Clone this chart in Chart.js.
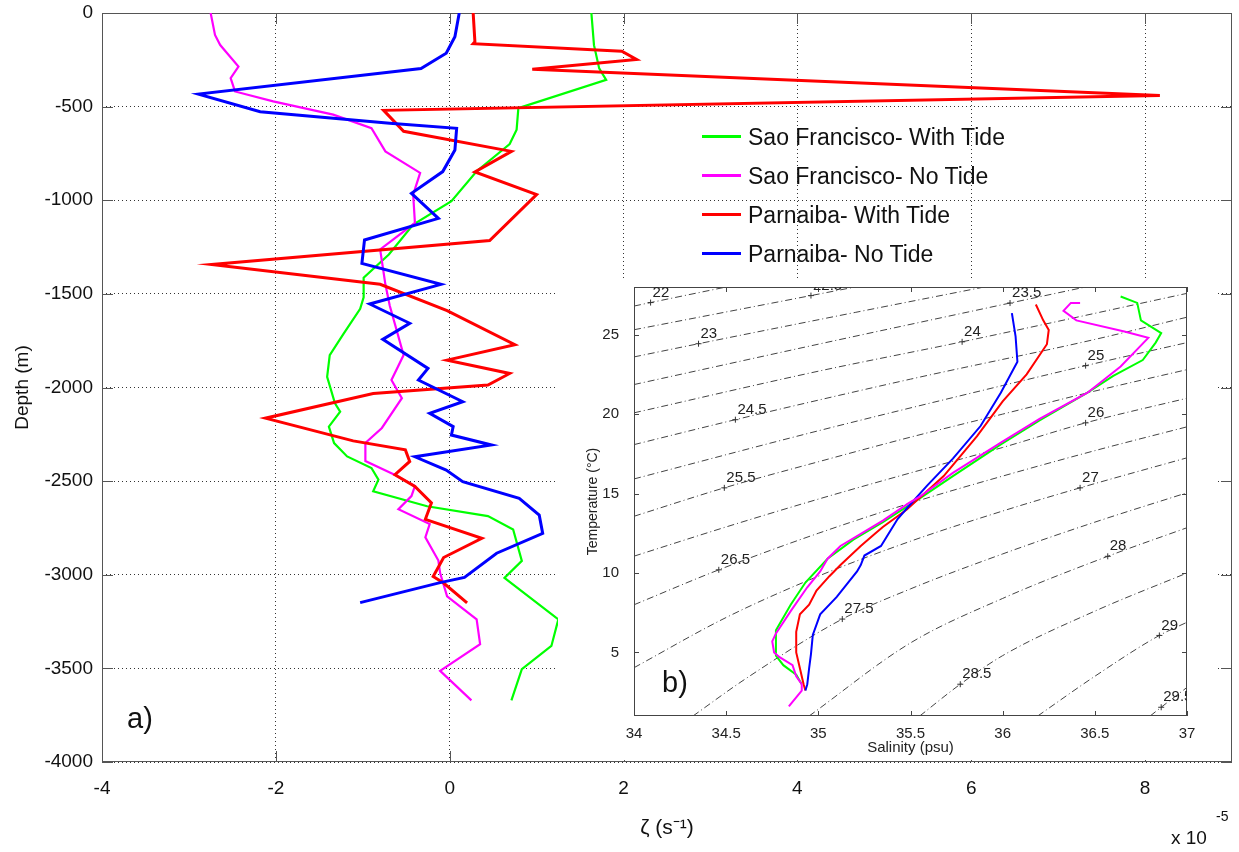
<!DOCTYPE html>
<html>
<head>
<meta charset="utf-8">
<script src="https://cdn.jsdelivr.net/npm/chart.js@4.4.0/dist/chart.umd.min.js"></script>
<style>
  html, body { margin: 0; padding: 0; background: #fff; }
  #wrap { position: relative; width: 1239px; height: 852px; font-family: "Liberation Sans", Arial, sans-serif; color: #111; }
  #main { position: absolute; left: 0; top: 0; }
  #insetBox { position: absolute; left: 558px; top: 278px; width: 657px; height: 482px; background: #fff; }
  #inset { position: absolute; left: 0; top: 0; }
  .legend-row { position: absolute; left: 702px; height: 30px; font-size: 23px; line-height: 30px; white-space: nowrap; }
  .legend-row i { display: inline-block; width: 39px; height: 3px; vertical-align: middle; margin-right: 7px; position: relative; top: -2px; }
  .note { position: absolute; white-space: nowrap; }
</style>
</head>
<body>
<div id="wrap">
  <canvas id="main" width="1239" height="852"></canvas>
  <div id="legend"></div>
  <div class="note" style="left:127px; top:702px; font-size:29px;">a)</div>
  <div class="note" style="left:1171px; top:827px; font-size:19px;">x 10</div>
  <div class="note" style="left:1216px; top:808px; font-size:14px;">-5</div>
  <div id="insetBox">
    <canvas id="inset" width="657" height="482"></canvas>
    <div class="note" style="left:104px; top:388px; font-size:29px;">b)</div>
  </div>
</div>
<script>
// ---- panel a: vorticity profiles (zeta in 1e-5 s^-1, depth in m) ----
const zetaTicks = [-4, -2, 0, 2, 4, 6, 8];
const depthTicks = [-4000, -3500, -3000, -2500, -2000, -1500, -1000, -500, 0];

const seriesNames = ['Sao Francisco- With Tide', 'Sao Francisco- No Tide', 'Parnaiba- With Tide', 'Parnaiba- No Tide'];
const seriesColors = ['#00ff00', '#ff00ff', '#ff0000', '#0000ff'];

const sfWithTide = [[1.63,0],[1.66,-172],[1.72,-296],[1.8,-357],[0.79,-508],[0.77,-623],[0.69,-700],[0.31,-845],
  [0.02,-1005],[-0.42,-1130],[-0.7,-1290],[-0.99,-1414],[-0.99,-1518],[-1.03,-1580],[-1.22,-1712],[-1.38,-1827],
  [-1.41,-1943],[-1.32,-2085],[-1.26,-2129],[-1.39,-2209],[-1.33,-2297],[-1.18,-2368],[-0.9,-2430],[-0.82,-2492],
  [-0.88,-2554],[-0.26,-2634],[0.44,-2687],[0.73,-2758],[0.83,-2926],[0.63,-3017],[1.25,-3238],[1.17,-3380],
  [0.83,-3504],[0.71,-3671]];
const sfNoTide = [[-2.75,0],[-2.7,-117],[-2.64,-171],[-2.43,-286],[-2.52,-348],[-2.47,-419],[-2.03,-472],[-1.34,-543],
  [-0.9,-615],[-0.74,-739],[-0.34,-854],[-0.42,-970],[-0.4,-1121],[-0.8,-1263],[-0.74,-1449],[-0.69,-1562],
  [-0.53,-1827],[-0.67,-1960],[-0.55,-2057],[-0.78,-2216],[-0.97,-2296],[-0.97,-2393],[-0.64,-2464],[-0.4,-2526],
  [-0.44,-2580],[-0.59,-2650],[-0.23,-2729],[-0.28,-2800],[-0.13,-2924],[-0.11,-2991],[-0.03,-3115],[0.31,-3238],
  [0.35,-3371],[-0.11,-3513],[0.25,-3671]];
const parWithTide = [[0.27,0],[0.29,-153],[0.27,-164],[1.98,-204],[2.15,-248],[0.95,-300],[8.17,-440],[-0.76,-520],
  [-0.53,-632],[0.71,-739],[0.29,-849],[1.0,-970],[0.46,-1215],[-2.74,-1343],[-0.8,-1449],[-0.03,-1589],[0.75,-1771],
  [-0.03,-1854],[0.69,-1925],[0.44,-1987],[-0.88,-2032],[-2.12,-2164],[-1.11,-2285],[-0.51,-2333],[-0.46,-2395],
  [-0.63,-2466],[-0.4,-2528],[-0.21,-2616],[-0.28,-2704],[0.37,-2805],[-0.07,-2908],[-0.19,-3009],[-0.07,-3044],
  [0.2,-3150]];
const parNoTide = [[0.11,0],[0.06,-127],[-0.04,-215],[-0.33,-296],[-2.89,-433],[-2.18,-527],[-0.69,-589],[0.08,-616],
  [0.06,-732],[-0.08,-847],[-0.44,-963],[-0.13,-1097],[-0.98,-1212],[-1.01,-1337],[-0.1,-1449],[-0.92,-1554],
  [-0.46,-1657],[-0.77,-1743],[-0.25,-1898],[-0.36,-1960],[0.15,-2076],[-0.23,-2138],[0.04,-2209],[0.02,-2254],
  [0.48,-2307],[-0.4,-2370],[-0.04,-2441],[0.15,-2503],[0.8,-2592],[1.03,-2681],[1.07,-2779],[0.54,-2885],
  [0.17,-3014],[-0.11,-3042],[-1.03,-3149]];

// ---- panel b: T-S diagram (salinity psu, temperature C) ----
const salTicks = [34, 34.5, 35, 35.5, 36, 36.5, 37];
const tempTicks = [5, 10, 15, 20, 25];

const tsSfWithTide = [[36.64,27.4],[36.73,27.0],[36.75,25.9],[36.86,25.1],[36.83,24.5],[36.76,23.4],[36.6,22.4],
  [36.46,21.35],[36.2,19.6],[35.99,18.1],[35.73,16.1],[35.55,14.7],[35.35,13.2],[35.19,12.1],[35.05,10.9],
  [34.93,9.4],[34.85,8.0],[34.77,6.4],[34.77,4.8],[34.81,4.2],[34.88,3.6],[34.91,3.0]];
const tsSfNoTide = [[36.42,27.0],[36.37,27.0],[36.33,26.5],[36.4,25.9],[36.66,25.2],[36.79,24.8],[36.64,23.0],
  [36.46,21.35],[36.2,19.7],[35.99,18.2],[35.73,16.3],[35.55,14.8],[35.49,14.4],[35.35,13.3],[35.12,11.7],
  [35.05,10.9],[35.01,10.1],[34.94,9.1],[34.85,7.6],[34.77,6.2],[34.75,5.7],[34.76,5.0],[34.79,4.7],[34.86,4.2],
  [34.88,3.5],[34.91,3.0],[34.91,2.6],[34.84,1.6]];
const tsParWithTide = [[36.18,26.9],[36.22,25.9],[36.25,25.3],[36.24,24.4],[36.13,22.5],[36.0,20.8],[35.86,18.6],
  [35.68,16.1],[35.48,14.0],[35.35,12.9],[35.31,12.5],[35.23,11.7],[35.12,10.5],[35.06,9.8],[34.99,8.9],
  [34.95,8.0],[34.9,7.4],[34.88,6.3],[34.88,5.0],[34.9,4.0],[34.92,3.0],[34.93,2.6]];
const tsParNoTide = [[36.05,26.36],[36.07,24.9],[36.08,23.3],[35.99,21.35],[35.88,19.25],[35.73,17.2],[35.59,15.5],
  [35.49,14.2],[35.43,13.4],[35.34,11.7],[35.25,11.1],[35.23,10.5],[35.21,10.1],[35.1,8.5],[35.01,7.4],
  [34.97,6.1],[34.96,4.9],[34.95,4.0],[34.94,3.0],[34.93,2.6]];

// isopycnals (sigma-theta)
const iso220 = [[34,26.8],[34.09,27.02],[34.5,28]];
const iso225 = [[34,25.31],[34.96,27.46],[35.2,28]];
const iso230 = [[34,23.6],[34.35,24.43],[35.2,26.4],[35.9,28]];
const iso235 = [[34,21.86],[35,24.4],[36.04,26.99],[36.45,28]];
const iso240 = [[34,20.08],[35,22.7],[35.78,24.55],[37,27.6]];
const iso245 = [[34,18.08],[34.55,19.65],[35.5,22.2],[36.5,24.7],[37,26.1]];
const iso250 = [[34,15.92],[35,18.95],[36,21.8],[36.45,23.05],[37,24.5]];
const iso255 = [[34,13.57],[34.49,15.36],[35,17.0],[35.5,18.55],[36,20.0],[36.5,21.45],[37,22.8]];
const iso260 = [[34,11.06],[34.5,12.9],[35,14.65],[35.5,16.3],[36,17.9],[36.45,19.45],[37,21.0]];
const iso265 = [[34,8.0],[34.46,10.2],[35,12.5],[35.5,14.4],[36,16.1],[36.5,17.7],[37,19.2]];
const iso270 = [[34,4.04],[34.5,7.2],[35,9.8],[35.5,12.0],[36,13.9],[36.42,15.36],[37,17.25]];
const iso275 = [[34.32,1.0],[34.6,3.3],[35.13,7.1],[35.5,9.0],[36,11.2],[36.5,13.2],[37,15.05]];
const iso280 = [[34.95,1.0],[35.5,5.6],[36,8.4],[36.57,11.05],[37,12.85]];
const iso285 = [[35.55,1.0],[35.77,3.0],[36,4.8],[36.5,7.6],[37,10.0]];
const iso290 = [[36.19,1.0],[36.5,3.5],[36.85,6.07],[37,6.9]];
const iso295 = [[36.8,1.0],[36.86,1.55],[37,2.8]];
const isopycnals = [iso220, iso225, iso230, iso235, iso240, iso245, iso250, iso255,
  iso260, iso265, iso270, iso275, iso280, iso285, iso290, iso295];

const sigmaLabels = ['22', '22.5', '23', '23.5', '24', '24.5', '25', '25.5', '26', '26.5', '27', '27.5', '28', '28.5', '29', '29.5'];
const sigmaLabelS = [34.09, 34.96, 34.35, 36.04, 35.78, 34.55, 36.45, 34.49, 36.45, 34.46, 36.42, 35.13, 36.57, 35.77, 36.85, 36.86];
const sigmaLabelT = [27.02, 27.46, 24.43, 26.99, 24.55, 19.65, 23.05, 15.36, 19.45, 10.2, 15.36, 7.1, 11.05, 3.0, 6.07, 1.55];

const toXY = arr => arr.map(p => ({ x: p[0], y: p[1] }));
const fixTicks = list => scale => { scale.ticks = list.map(v => ({ value: v })); };
// fixed axis sizes, no extra room for overhanging tick labels
const fixWidth = w => s => { s.width = w; s.paddingTop = 0; s.paddingBottom = 0; };
const fixHeight = h => s => { s.height = h; s.paddingLeft = 0; s.paddingRight = 0; };

// box + inward tick marks, matlab style
const framePlugin = {
  id: 'frame',
  beforeDatasetsDraw(chart, args, opts) {
    const { ctx, chartArea: a, scales: { x, y } } = chart;
    ctx.save();
    ctx.strokeStyle = opts.color;
    ctx.lineWidth = 1;
    ctx.strokeRect(a.left + 0.5, a.top + 0.5, a.right - a.left - 1, a.bottom - a.top - 1);
    ctx.beginPath();
    x.ticks.forEach(t => {
      const px = Math.round(x.getPixelForValue(t.value)) + 0.5;
      ctx.moveTo(px, a.bottom); ctx.lineTo(px, a.bottom - opts.tick);
      ctx.moveTo(px, a.top); ctx.lineTo(px, a.top + opts.tick);
    });
    y.ticks.forEach(t => {
      const py = Math.round(y.getPixelForValue(t.value)) + 0.5;
      ctx.moveTo(a.left, py); ctx.lineTo(a.left + opts.tick, py);
      ctx.moveTo(a.right, py); ctx.lineTo(a.right - opts.tick, py);
    });
    ctx.stroke();
    ctx.restore();
  }
};

// sigma labels next to the + marks
const sigmaTextPlugin = {
  id: 'sigmaText',
  afterDatasetsDraw(chart) {
    const { ctx, chartArea: a, scales: { x, y } } = chart;
    ctx.save();
    ctx.beginPath();
    ctx.rect(a.left, a.top, a.right - a.left, a.bottom - a.top);
    ctx.clip();
    ctx.fillStyle = '#222';
    ctx.font = '15px "Liberation Sans", Arial, sans-serif';
    ctx.textAlign = 'left';
    ctx.textBaseline = 'middle';
    sigmaLabels.forEach((txt, i) => {
      const px = x.getPixelForValue(sigmaLabelS[i]);
      const py = y.getPixelForValue(sigmaLabelT[i]);
      ctx.fillText(txt, px + 2, py - 10);
    });
    ctx.restore();
  }
};

// ---------- main chart ----------
const mainSeries = [sfWithTide, sfNoTide, parWithTide, parNoTide];
const mainWidths = [2.2, 2.2, 3, 3];

new Chart(document.getElementById('main'), {
  type: 'scatter',
  data: {
    datasets: mainSeries.map((s, i) => ({
      label: seriesNames[i],
      data: toXY(s),
      showLine: true,
      borderColor: seriesColors[i],
      backgroundColor: seriesColors[i],
      borderWidth: mainWidths[i],
      pointRadius: 0,
      tension: 0,
      order: 4 - i
    }))
  },
  options: {
    responsive: false,
    animation: false,
    layout: { padding: { top: 13, right: 7, left: 0, bottom: 0 } },
    plugins: {
      legend: { display: false },
      tooltip: { enabled: false },
      frame: { color: '#555', tick: 11 }
    },
    scales: {
      x: {
        type: 'linear', min: -4, max: 9,
        afterBuildTicks: fixTicks(zetaTicks),
        afterFit: fixHeight(90),
        grid: { color: '#333', lineWidth: 1, drawTicks: false },
        border: { display: false, dash: [1, 3] },
        ticks: { color: '#111', font: { size: 19 }, padding: 15, callback: v => String(v) },
        title: { display: true, text: 'ζ (s⁻¹)', color: '#111', font: { size: 21 }, padding: { bottom: 11 } }
      },
      y: {
        type: 'linear', min: -4000, max: 0,
        afterBuildTicks: fixTicks(depthTicks),
        afterFit: fixWidth(102),
        grid: { color: '#333', lineWidth: 1, drawTicks: false },
        border: { display: false, dash: [1, 3] },
        ticks: { color: '#111', font: { size: 19 }, padding: 9, callback: v => String(v) },
        title: { display: true, text: 'Depth (m)', color: '#111', font: { size: 19 }, padding: { top: 11 } }
      }
    }
  },
  plugins: [framePlugin]
});

// legend
const legendBox = document.getElementById('legend');
const legendY = [122, 161, 200, 239];
seriesNames.forEach((name, i) => {
  const row = document.createElement('div');
  row.className = 'legend-row';
  row.style.top = legendY[i] + 'px';
  row.innerHTML = '<i style="background:' + seriesColors[i] + '"></i>' + name;
  legendBox.appendChild(row);
});

// ---------- inset T-S chart ----------
const tsSeries = [tsSfNoTide, tsParNoTide, tsParWithTide, tsSfWithTide];
const tsColors = ['#ff00ff', '#0000ff', '#ff0000', '#00ff00'];

const insetSets = tsSeries.map((s, i) => ({
  data: toXY(s),
  showLine: true,
  borderColor: tsColors[i],
  borderWidth: 2,
  pointRadius: 0,
  tension: 0
}));
insetSets.push({
  data: sigmaLabelS.map((s, i) => ({ x: s, y: sigmaLabelT[i] })),
  showLine: false,
  pointStyle: 'cross',
  pointRadius: 3,
  borderColor: '#333',
  borderWidth: 1
});
isopycnals.forEach(line => insetSets.push({
  data: toXY(line),
  showLine: true,
  borderColor: '#444',
  borderWidth: 1,
  borderDash: [7, 3, 1, 3],
  pointRadius: 0,
  cubicInterpolationMode: 'monotone'
}));

new Chart(document.getElementById('inset'), {
  type: 'scatter',
  data: { datasets: insetSets },
  options: {
    responsive: false,
    animation: false,
    layout: { padding: { top: 9, right: 28, left: 0, bottom: 0 } },
    plugins: {
      legend: { display: false },
      tooltip: { enabled: false },
      frame: { color: '#444', tick: 5 }
    },
    scales: {
      x: {
        type: 'linear', min: 34, max: 37,
        afterBuildTicks: fixTicks(salTicks),
        afterFit: fixHeight(44),
        grid: { display: false },
        border: { display: false },
        ticks: { color: '#222', font: { size: 15 }, padding: 1, callback: v => String(v) },
        title: { display: true, text: 'Salinity (psu)', color: '#222', font: { size: 15 }, padding: { bottom: 3 } }
      },
      y: {
        type: 'linear', min: 1, max: 28,
        afterBuildTicks: fixTicks(tempTicks),
        afterFit: fixWidth(76),
        grid: { display: false },
        border: { display: false },
        ticks: { color: '#222', font: { size: 15 }, padding: 7, callback: v => String(v) },
        title: { display: true, text: 'Temperature (°C)', color: '#222', font: { size: 14 }, padding: { top: 27 } }
      }
    }
  },
  plugins: [framePlugin, sigmaTextPlugin]
});
</script>
</body>
</html>
